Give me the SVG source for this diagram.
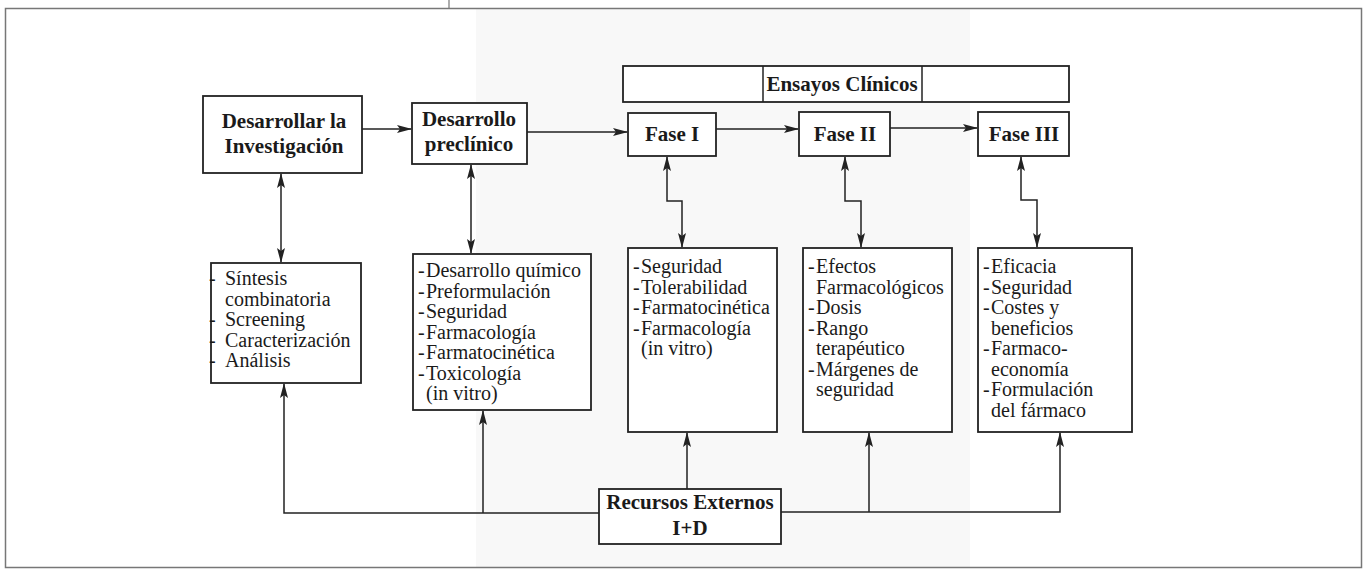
<svg xmlns="http://www.w3.org/2000/svg" width="1368" height="572" viewBox="0 0 1368 572">
<defs>
<style>
.box{fill:#fff;stroke:#222;stroke-width:1.8}
.frame{fill:none;stroke:#777;stroke-width:1.5}
.ln{fill:none;stroke:#222;stroke-width:1.5}
.t{font-family:"Liberation Serif","Times New Roman",serif;font-size:20px;fill:#1a1a1a}
.b{font-family:"Liberation Serif","Times New Roman",serif;font-size:21px;font-weight:bold;fill:#1a1a1a;text-anchor:middle}
</style>
<marker id="ah" markerUnits="userSpaceOnUse" markerWidth="16" markerHeight="10" refX="14" refY="4" orient="auto-start-reverse">
<path d="M0,0 L15,4 L0,8 L3,4 Z" fill="#222"/>
</marker>
</defs>
<rect x="0" y="0" width="1368" height="572" fill="#fff"/>
<rect x="476" y="9" width="494" height="558" fill="#f8f8f8"/>
<rect class="frame" x="5.5" y="8.5" width="1356" height="559"/>
<line x1="449" y1="0" x2="449" y2="8" stroke="#777" stroke-width="1.2"/>

<g id="connectors">
<line class="ln" x1="362" y1="129" x2="411" y2="129" marker-end="url(#ah)"/>
<line class="ln" x1="527" y1="132" x2="627" y2="132" marker-end="url(#ah)"/>
<line class="ln" x1="716" y1="129" x2="798" y2="129" marker-end="url(#ah)"/>
<line class="ln" x1="890" y1="128" x2="977" y2="128" marker-end="url(#ah)"/>
<line class="ln" x1="281" y1="174" x2="281" y2="262" marker-start="url(#ah)" marker-end="url(#ah)"/>
<line class="ln" x1="471" y1="165" x2="471" y2="253" marker-start="url(#ah)" marker-end="url(#ah)"/>
<polyline class="ln" points="667,157 667,201 682,201 682,247" marker-start="url(#ah)" marker-end="url(#ah)"/>
<polyline class="ln" points="845,157 845,201 861,201 861,247" marker-start="url(#ah)" marker-end="url(#ah)"/>
<polyline class="ln" points="1021,157 1021,200 1037,200 1037,247" marker-start="url(#ah)" marker-end="url(#ah)"/>
<polyline class="ln" points="599,513 284,513 284,384" marker-end="url(#ah)"/>
<line class="ln" x1="483" y1="513" x2="483" y2="411" marker-end="url(#ah)"/>
<line class="ln" x1="687" y1="489" x2="687" y2="433" marker-end="url(#ah)"/>
<polyline class="ln" points="781,512 1060,512 1060,433" marker-end="url(#ah)"/>
<line class="ln" x1="869" y1="512" x2="869" y2="433" marker-end="url(#ah)"/>
</g>

<g id="desarrollar">
<rect class="box" x="203" y="96" width="159" height="77"/>
<text class="b" x="284" y="128">Desarrollar la</text>
<text class="b" x="284" y="153">Investigación</text>
</g>
<g id="preclinico">
<rect class="box" x="412" y="103" width="115" height="61"/>
<text class="b" x="469" y="126">Desarrollo</text>
<text class="b" x="469" y="151">preclínico</text>
</g>
<g id="ensayos">
<rect class="box" x="623" y="66" width="446" height="36"/>
<line class="ln" x1="763" y1="66" x2="763" y2="102"/>
<line class="ln" x1="922" y1="66" x2="922" y2="102"/>
<text class="b" x="842" y="91">Ensayos Clínicos</text>
</g>
<g id="fase1">
<rect class="box" x="628" y="113" width="88" height="43"/>
<text class="b" x="672" y="141">Fase I</text>
</g>
<g id="fase2">
<rect class="box" x="799" y="112" width="91" height="44"/>
<text class="b" x="845" y="141">Fase II</text>
</g>
<g id="fase3">
<rect class="box" x="978" y="112" width="91" height="44"/>
<text class="b" x="1024" y="141">Fase III</text>
</g>

<g id="list-investigacion">
<rect class="box" x="211" y="263" width="150" height="120"/>
<text class="t" x="209" y="285">-</text><text class="t" x="225" y="285">Síntesis</text>
<text class="t" x="225" y="305.5">combinatoria</text>
<text class="t" x="209" y="326">-</text><text class="t" x="225" y="326">Screening</text>
<text class="t" x="209" y="346.5">-</text><text class="t" x="225" y="346.5">Caracterización</text>
<text class="t" x="209" y="367">-</text><text class="t" x="225" y="367">Análisis</text>
</g>
<g id="list-preclinico">
<rect class="box" x="413" y="254" width="178" height="156"/>
<text class="t" x="418" y="277">-</text><text class="t" x="426" y="277">Desarrollo químico</text>
<text class="t" x="418" y="297.5">-</text><text class="t" x="426" y="297.5">Preformulación</text>
<text class="t" x="418" y="318">-</text><text class="t" x="426" y="318">Seguridad</text>
<text class="t" x="418" y="338.5">-</text><text class="t" x="426" y="338.5">Farmacología</text>
<text class="t" x="418" y="359">-</text><text class="t" x="426" y="359">Farmatocinética</text>
<text class="t" x="418" y="379.5">-</text><text class="t" x="426" y="379.5">Toxicología</text>
<text class="t" x="426" y="400">(in vitro)</text>
</g>
<g id="list-fase1">
<rect class="box" x="628" y="248" width="149" height="184"/>
<text class="t" x="633" y="273">-</text><text class="t" x="641" y="273">Seguridad</text>
<text class="t" x="633" y="293.5">-</text><text class="t" x="641" y="293.5">Tolerabilidad</text>
<text class="t" x="633" y="314">-</text><text class="t" x="641" y="314">Farmatocinética</text>
<text class="t" x="633" y="334.5">-</text><text class="t" x="641" y="334.5">Farmacología</text>
<text class="t" x="641" y="355">(in vitro)</text>
</g>
<g id="list-fase2">
<rect class="box" x="803" y="248" width="149" height="184"/>
<text class="t" x="808" y="273">-</text><text class="t" x="816" y="273">Efectos</text>
<text class="t" x="816" y="293.5">Farmacológicos</text>
<text class="t" x="808" y="314">-</text><text class="t" x="816" y="314">Dosis</text>
<text class="t" x="808" y="334.5">-</text><text class="t" x="816" y="334.5">Rango</text>
<text class="t" x="816" y="355">terapéutico</text>
<text class="t" x="808" y="375.5">-</text><text class="t" x="816" y="375.5">Márgenes de</text>
<text class="t" x="816" y="396">seguridad</text>
</g>
<g id="list-fase3">
<rect class="box" x="978" y="248" width="154" height="184"/>
<text class="t" x="983" y="273">-</text><text class="t" x="991" y="273">Eficacia</text>
<text class="t" x="983" y="293.5">-</text><text class="t" x="991" y="293.5">Seguridad</text>
<text class="t" x="983" y="314">-</text><text class="t" x="991" y="314">Costes y</text>
<text class="t" x="991" y="334.5">beneficios</text>
<text class="t" x="983" y="355">-</text><text class="t" x="991" y="355">Farmaco-</text>
<text class="t" x="991" y="375.5">economía</text>
<text class="t" x="983" y="396">-</text><text class="t" x="991" y="396">Formulación</text>
<text class="t" x="991" y="416.5">del fármaco</text>
</g>
<g id="recursos">
<rect class="box" x="599" y="489" width="182" height="55"/>
<text class="b" x="690" y="509">Recursos Externos</text>
<text class="b" x="690" y="535">I+D</text>
</g>
</svg>
